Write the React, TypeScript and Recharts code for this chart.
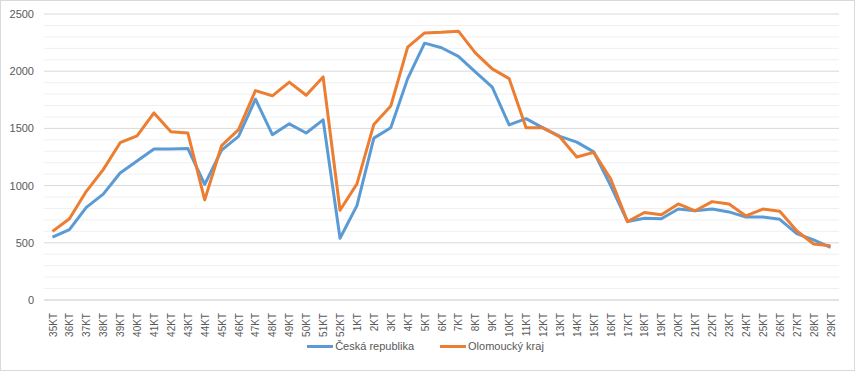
import React from "react";
import { LineChart, Line, XAxis, YAxis, CartesianGrid, Legend, ReferenceLine } from "recharts";

const categories = [
  "35KT","36KT","37KT","38KT","39KT","40KT","41KT","42KT","43KT","44KT","45KT","46KT","47KT","48KT","49KT","50KT","51KT","52KT",
  "1KT","2KT","3KT","4KT","5KT","6KT","7KT","8KT","9KT","10KT","11KT","12KT","13KT","14KT","15KT","16KT","17KT","18KT","19KT","20KT",
  "21KT","22KT","23KT","24KT","25KT","26KT","27KT","28KT","29KT",
];
const ceskaRepublika = [
  550, 615, 810, 925, 1110, 1215, 1320, 1320, 1325, 1010, 1310, 1430, 1755, 1445, 1540, 1460, 1575, 540,
  825, 1415, 1505, 1935, 2245, 2205, 2130, 1995, 1860, 1530, 1585, 1505, 1430, 1380, 1295, 1000, 685, 715, 710, 795,
  780, 795, 770, 725, 725, 705, 580, 525, 460,
];
const olomouckyKraj = [
  600, 710, 950, 1140, 1375, 1435, 1635, 1470, 1460, 875, 1350, 1490, 1830, 1785, 1905, 1790, 1950, 785,
  1015, 1535, 1695, 2210, 2335, 2340, 2350, 2160, 2020, 1935, 1505, 1505, 1425, 1250, 1290, 1060, 685, 765, 745, 840,
  780, 860, 840, 735, 795, 775, 605, 490, 475,
];
const seriesNames = ["Česká republika", "Olomoucký kraj"];
const seriesColors = ["#5B9BD5", "#ED7D31"];
const yTicks = [0, 500, 1000, 1500, 2000, 2500];
const minorGrid = [100, 200, 300, 400, 600, 700, 800, 900, 1100, 1200, 1300, 1400, 1600, 1700, 1800, 1900, 2100, 2200, 2300, 2400];

const data = categories.map((c, i) => ({ name: c, cr: ceskaRepublika[i], ol: olomouckyKraj[i] }));

const FONT = "'Liberation Sans', Arial, sans-serif";

const XTick = (props: any) => {
  const { x, y, payload } = props;
  return (
    <text x={x} y={y} transform={`rotate(-90, ${x}, ${y})`} dx={-5} dy={4} textAnchor="end" fill="#595959" fontSize={10} fontFamily={FONT}>
      {payload.value}
    </text>
  );
};

const LegendContent = () => (
  <div style={{ display: "flex", justifyContent: "center", gap: 26, fontFamily: FONT, fontSize: 11, color: "#595959", paddingLeft: 12 }}>
    {seriesNames.map((n, i) => (
      <div key={n} style={{ display: "flex", alignItems: "center" }}>
        <span style={{ display: "inline-block", width: 26, height: 3, background: seriesColors[i], marginRight: 2 }} />
        <span>{n}</span>
      </div>
    ))}
  </div>
);

export default function App() {
  return (
    <div style={{ position: "absolute", left: 0, top: 0, width: 855, height: 372, background: "#fff" }}>
      <div style={{ position: "absolute", left: 0, top: 0, width: 853, height: 369, border: "1px solid #d9d9d9" }} />
      <LineChart width={855} height={372} data={data} margin={{ top: 14, right: 16, left: 0, bottom: 3 }}>
        {minorGrid.map((v) => (
          <ReferenceLine key={v} y={v} stroke="#f0f0f0" strokeWidth={1} ifOverflow="extendDomain" />
        ))}
        <CartesianGrid vertical={false} stroke="#d9d9d9" strokeDasharray="" />
        <XAxis
          dataKey="name"
          interval={0}
          tick={<XTick />}
          tickLine={false}
          axisLine={{ stroke: "#d9d9d9" }}
          height={40}
          padding={{ left: 8.5, right: 8.5 }}
        />
        <YAxis
          domain={[0, 2500]}
          ticks={yTicks}
          width={44}
          tickLine={false}
          axisLine={false}
          tick={{ fill: "#595959", fontSize: 11, fontFamily: FONT }}
          tickMargin={4}
        />
        <Legend verticalAlign="bottom" height={29} content={<LegendContent />} />
        <Line name={seriesNames[0]} dataKey="cr" stroke={seriesColors[0]} strokeWidth={3} dot={false} isAnimationActive={false} strokeLinejoin="round" />
        <Line name={seriesNames[1]} dataKey="ol" stroke={seriesColors[1]} strokeWidth={3} dot={false} isAnimationActive={false} strokeLinejoin="round" />
      </LineChart>
    </div>
  );
}
